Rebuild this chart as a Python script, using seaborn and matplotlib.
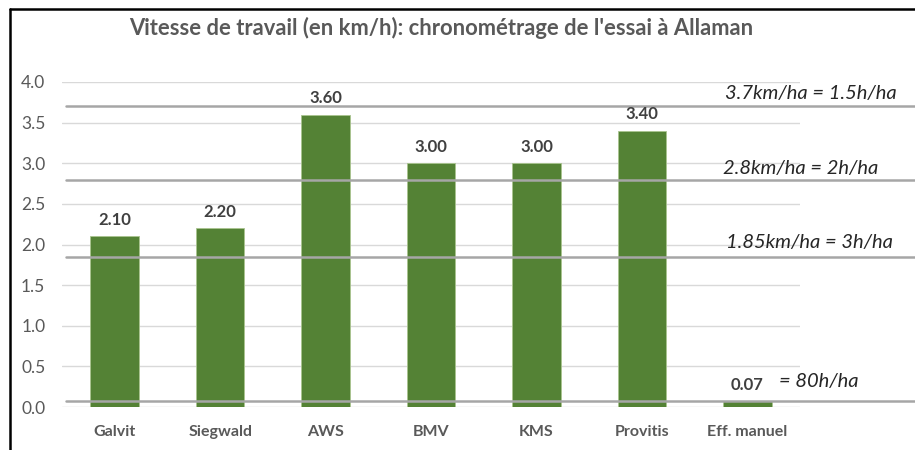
import matplotlib
matplotlib.use("Agg")
import matplotlib.pyplot as plt
import matplotlib.transforms as mtransforms
from matplotlib.lines import Line2D
import seaborn as sns
import pandas as pd

categories = ["Galvit", "Siegwald", "AWS", "BMV", "KMS", "Provitis", "Eff. manuel"]
values = [2.10, 2.20, 3.60, 3.00, 3.00, 3.40, 0.07]
ref_values = [3.7, 2.8, 1.85, 0.07]
ref_labels = ["3.7km/ha = 1.5h/ha", "2.8km/ha = 2h/ha", "1.85km/ha = 3h/ha", "= 80h/ha"]
yticks = [0.0, 0.5, 1.0, 1.5, 2.0, 2.5, 3.0, 3.5, 4.0]
title = "Vitesse de travail (en km/h): chronométrage de l'essai à Allaman"

sns.set_style("white")
plt.rcParams['font.family'] = ['Lato', 'DejaVu Sans']

df = pd.DataFrame({"cat": categories, "val": values})

fig = plt.figure(figsize=(9.15, 4.5), dpi=100)
W, H = 915, 450
ax = fig.add_axes([62 / W, 1 - 407 / H, (800 - 62) / W, (407 - 82) / H])

sns.barplot(data=df, x="cat", y="val", color="#548235", width=0.46,
            saturation=1, ax=ax, edgecolor="#A9C48F", linewidth=0.6, zorder=3)

ax.set_ylim(0, 4.0)
ax.set_yticks(yticks)
ax.set_yticklabels([f"{t:.1f}" for t in yticks])
ax.yaxis.grid(True, color="#D9D9D9", linewidth=1.0, zorder=0)
ax.set_axisbelow(True)
for s in ax.spines.values():
    s.set_visible(False)
ax.tick_params(axis="y", length=0, pad=12, labelsize=12.5, labelcolor="#595959")
ax.tick_params(axis="x", length=0, pad=13, labelsize=11.5, labelcolor="#595959")
for lab in ax.get_xticklabels():
    lab.set_fontweight("bold")
ax.set_xlabel("")
ax.set_ylabel("")

# bar value labels
for i, v in enumerate(values):
    ax.annotate(f"{v:.2f}", (i, v), xytext=(0, 6), textcoords="offset points",
                ha="center", va="bottom", fontsize=12, fontweight="bold",
                color="#404040", zorder=6)

# reference lines
x0 = (66 - 62) / (800 - 62)
x1 = (915 - 62) / (800 - 62)
for r in ref_values:
    ax.axhline(r, xmin=x0, xmax=x1, color="#A6A6A6", linewidth=1.8,
               clip_on=False, zorder=4)

trans = mtransforms.blended_transform_factory(ax.transAxes, ax.transData)
label_pos = [(725, 3.86), (723, 2.93), (726, 2.02), (779, 0.31)]
for (px, y), lab in zip(label_pos, ref_labels):
    ax.text((px - 62) / (800 - 62), y, lab, transform=trans, ha="left",
            va="center", fontsize=14.5, fontstyle="italic", color="#262626",
            clip_on=False, zorder=6)

fig.text(441 / W, 1 - 28 / H, title, ha="center", va="center", fontsize=15.8,
         fontweight="bold", color="#595959")

# chart border (left and top)
fig.add_artist(Line2D([10 / W, 10 / W], [0, 1 - 9 / H], transform=fig.transFigure,
                      color="black", linewidth=1.8))
fig.add_artist(Line2D([10 / W, 1], [1 - 9 / H, 1 - 9 / H], transform=fig.transFigure,
                      color="black", linewidth=1.8))

fig.savefig("out.png", dpi=100)
